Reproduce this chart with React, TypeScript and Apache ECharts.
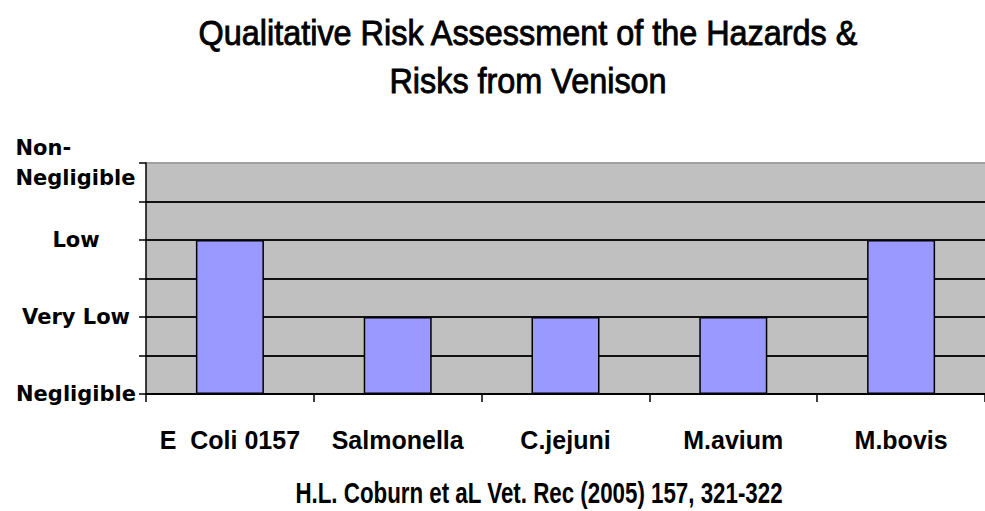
import React, { useEffect, useRef } from "react";
import * as echarts from "echarts";

const categories = ["E  Coli 0157", "Salmonella", "C.jejuni", "M.avium", "M.bovis"];
const riskValues = [4, 2, 2, 2, 4];
const riskLabels: Record<number, string> = {
  0: "Negligible",
  2: "Very Low",
  4: "Low",
  6: "Non-\nNegligible",
};
const titleLine1 = "Qualitative Risk Assessment of the Hazards &";
const titleLine2 = "Risks from Venison";
const sourceText = "H.L. Coburn et aL Vet. Rec (2005) 157, 321-322";

const SANS = "'Liberation Sans', Arial, sans-serif";

export default function App() {
  const ref = useRef<HTMLDivElement>(null);
  useEffect(() => {
    document.body.style.margin = "0";
    if (!ref.current) return;
    const chart = echarts.init(ref.current, undefined, { renderer: "svg" });
    const titleStyle = {
      fontFamily: SANS,
      fontSize: 36,
      fontWeight: "normal",
      fill: "#000",
      stroke: "#000",
      lineWidth: 0.9,
      align: "center",
      verticalAlign: "middle",
    };
    chart.setOption({
      animation: false,
      backgroundColor: "#ffffff",
      graphic: [
        {
          type: "text",
          x: 528,
          y: 32,
          scaleX: 0.9,
          style: { ...titleStyle, text: titleLine1 },
        },
        {
          type: "text",
          x: 528,
          y: 80,
          scaleX: 0.9,
          style: { ...titleStyle, text: titleLine2 },
        },
        {
          type: "text",
          x: 539,
          y: 493,
          scaleX: 0.77,
          style: {
            text: sourceText,
            fontFamily: SANS,
            fontWeight: "bold",
            fontSize: 29,
            fill: "#000",
            align: "center",
            verticalAlign: "middle",
          },
        },
      ],
      grid: {
        left: 146,
        top: 163,
        width: 850,
        height: 231,
        show: true,
        backgroundColor: "#C0C0C0",
        borderWidth: 0,
      },
      xAxis: {
        type: "category",
        data: categories,
        boundaryGap: true,
        axisLine: { show: true, lineStyle: { color: "#000", width: 2 } },
        axisTick: { show: true, length: 8, lineStyle: { color: "#000", width: 1.5 } },
        axisLabel: {
          margin: 33,
          fontFamily: SANS,
          fontWeight: "bold",
          fontSize: 25,
          color: "#000",
          interval: 0,
        },
      },
      yAxis: {
        type: "value",
        min: 0,
        max: 6,
        interval: 1,
        axisLine: { show: true, lineStyle: { color: "#000", width: 1.5 } },
        axisTick: { show: true, length: 7, lineStyle: { color: "#000", width: 1.5 } },
        splitLine: {
          show: true,
          lineStyle: {
            color: ["#111", "#111", "#111", "#111", "#111", "#111", "#a0a0a0"],
            width: 2,
          },
        },
        axisLabel: {
          margin: 70,
          align: "center",
          color: "#000",
          formatter: (v: number) => {
            const s = riskLabels[v];
            if (!s) return "";
            const parts = s.split("\n");
            if (parts.length > 1) return parts.map((p) => `{n|${p}}`).join("\n");
            return `{b|${s}}`;
          },
          rich: {
            b: {
              fontFamily: "'DejaVu Sans', sans-serif",
              fontWeight: "bold",
              fontSize: 21,
              color: "#000",
            },
            n: {
              fontFamily: "'DejaVu Sans', sans-serif",
              fontWeight: "bold",
              fontSize: 21,
              lineHeight: 30,
              width: 121,
              align: "left",
              color: "#000",
            },
          },
        },
      },
      series: [
        {
          type: "bar",
          data: riskValues,
          barWidth: 68,
          itemStyle: { color: "#9999FF", borderColor: "#000", borderWidth: 1.5 },
        },
      ],
    });
    return () => chart.dispose();
  }, []);
  return <div ref={ref} style={{ width: 985, height: 511 }} />;
}
